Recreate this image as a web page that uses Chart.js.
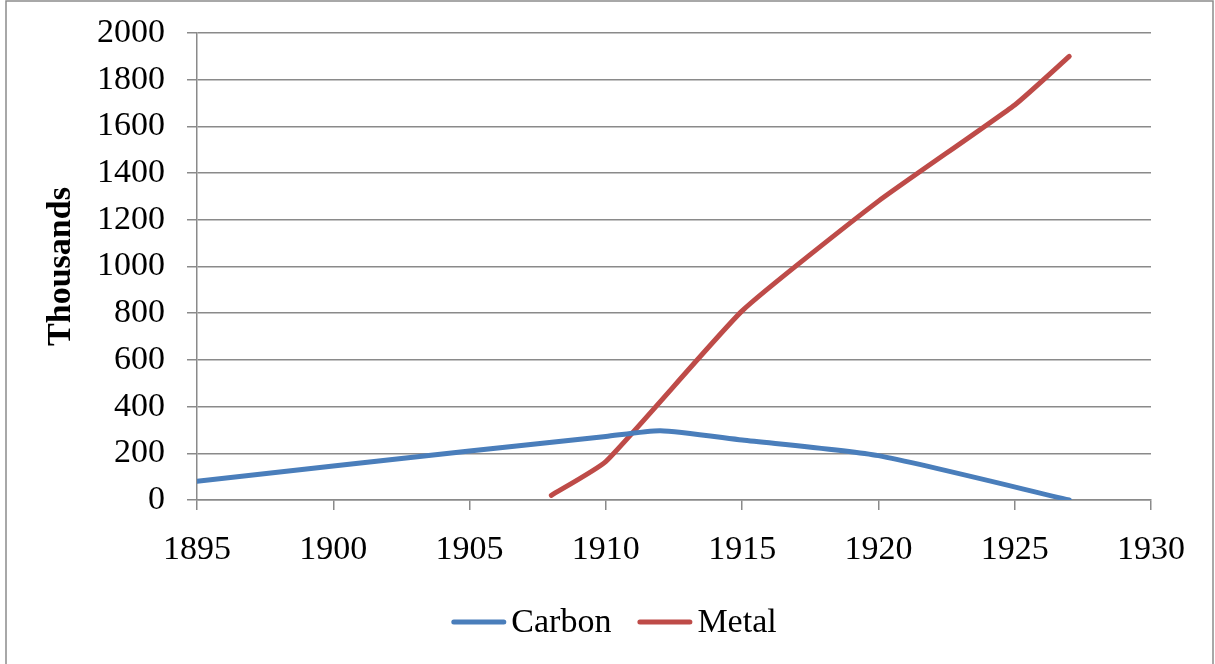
<!DOCTYPE html>
<html>
<head>
<meta charset="utf-8">
<script src="https://cdn.jsdelivr.net/npm/chart.js@4"></script>
<style>
  html, body { margin: 0; padding: 0; background: #fff; }
  #wrap { position: relative; width: 1215px; height: 664px; }
</style>
</head>
<body>
<div id="wrap"><canvas id="chart" width="1215" height="664"></canvas></div>
<script>
// Yearly production, in thousands
const carbonYears = [1895, 1905, 1910, 1912, 1915, 1920, 1927];
const carbonValues = [80, 210, 272, 297, 257, 190, 0];
const metalYears = [1908, 1910, 1915, 1920, 1925, 1927];
const metalValues = [20, 165, 810, 1280, 1692, 1900];
const seriesNames = ['Carbon', 'Metal'];
const seriesColors = ['#4a7ebb', '#be4b48'];
const xTicks = [1895, 1900, 1905, 1910, 1915, 1920, 1925, 1930];
const yTicks = [0, 200, 400, 600, 800, 1000, 1200, 1400, 1600, 1800, 2000];
const yTitle = 'Thousands';

const FONT = "'Liberation Serif', 'Times New Roman', serif";
const GRID = '#8a8a8a';

const toPoints = (xs, ys) => xs.map((x, i) => ({ x: x, y: ys[i] }));

// Frame around the whole figure and white backdrop
const framePlugin = {
  id: 'frame',
  beforeDraw(chart) {
    const ctx = chart.ctx;
    ctx.save();
    ctx.fillStyle = '#fff';
    ctx.fillRect(0, 0, chart.width, chart.height);
    ctx.strokeStyle = '#8c8c8c';
    ctx.lineWidth = 1.5;
    ctx.beginPath();
    ctx.moveTo(6, chart.height);
    ctx.lineTo(6, 1);
    ctx.lineTo(1213, 1);
    ctx.lineTo(1213, chart.height);
    ctx.stroke();
    ctx.restore();
  }
};

// Legend drawn under the plot: a short line sample followed by the name
const legendPlugin = {
  id: 'lineLegend',
  afterDraw(chart) {
    const ctx = chart.ctx;
    ctx.save();
    ctx.font = '34px ' + FONT;
    ctx.textBaseline = 'middle';
    const sample = 55, gap = 5, between = 26;
    const items = chart.data.datasets.map(ds => ({
      text: ds.label, color: ds.borderColor, w: ctx.measureText(ds.label).width
    }));
    const total = items.reduce((s, it) => s + sample + gap + it.w, 0) + between * (items.length - 1);
    let x = 614 - total / 2;
    const y = 622;
    items.forEach(it => {
      ctx.strokeStyle = it.color;
      ctx.lineWidth = 5;
      ctx.lineCap = 'round';
      ctx.beginPath();
      ctx.moveTo(x + 2.5, y);
      ctx.lineTo(x + sample - 2.5, y);
      ctx.stroke();
      x += sample + gap;
      ctx.fillStyle = '#000';
      ctx.textAlign = 'left';
      ctx.fillText(it.text, x, y + 1);
      x += it.w + between;
    });
    ctx.restore();
  }
};

new Chart(document.getElementById('chart'), {
  type: 'line',
  data: {
    datasets: [
      {
        label: seriesNames[0],
        data: toPoints(carbonYears, carbonValues),
        borderColor: seriesColors[0],
        backgroundColor: seriesColors[0],
        borderWidth: 5,
        borderCapStyle: 'round',
        borderJoinStyle: 'round',
        pointRadius: 0,
        tension: 0.2,
        fill: false
      },
      {
        label: seriesNames[1],
        data: toPoints(metalYears, metalValues),
        borderColor: seriesColors[1],
        backgroundColor: seriesColors[1],
        borderWidth: 5,
        borderCapStyle: 'round',
        borderJoinStyle: 'round',
        pointRadius: 0,
        tension: 0.15,
        fill: false
      }
    ]
  },
  options: {
    responsive: false,
    animation: false,
    layout: { padding: { left: 0, right: 64, top: 33, bottom: 0 } },
    plugins: {
      legend: { display: false },
      tooltip: { enabled: false }
    },
    scales: {
      x: {
        type: 'linear',
        min: xTicks[0],
        max: xTicks[xTicks.length - 1],
        afterBuildTicks(scale) { scale.ticks = xTicks.map(v => ({ value: v })); },
        afterFit(scale) {
          scale.height = 164;
          scale.paddingLeft = 0;
          scale.paddingRight = 0;
        },
        grid: {
          display: true,
          drawOnChartArea: false,
          drawTicks: true,
          tickLength: 10,
          color: GRID,
          lineWidth: 1.5
        },
        border: { display: true, color: GRID, width: 1.5 },
        ticks: {
          padding: 20,
          color: '#000',
          font: { family: FONT, size: 34 },
          maxRotation: 0,
          autoSkip: false,
          callback: v => String(v)
        }
      },
      y: {
        type: 'linear',
        min: yTicks[0],
        max: yTicks[yTicks.length - 1],
        afterBuildTicks(scale) { scale.ticks = yTicks.map(v => ({ value: v })); },
        afterFit(scale) {
          scale.width = 197;
          scale.paddingTop = 0;
          scale.paddingBottom = 0;
        },
        grid: {
          color: GRID,
          lineWidth: 1.5,
          tickLength: 10,
          drawTicks: true
        },
        border: { display: true, color: GRID, width: 1.5 },
        ticks: {
          padding: 22,
          color: '#000',
          font: { family: FONT, size: 34 },
          autoSkip: false,
          callback: v => String(v)
        },
        title: {
          display: true,
          text: yTitle,
          color: '#000',
          font: { family: FONT, size: 34, weight: 'bold' },
          padding: { top: 41, bottom: 0 }
        }
      }
    }
  },
  plugins: [framePlugin, legendPlugin]
});
</script>
</body>
</html>
